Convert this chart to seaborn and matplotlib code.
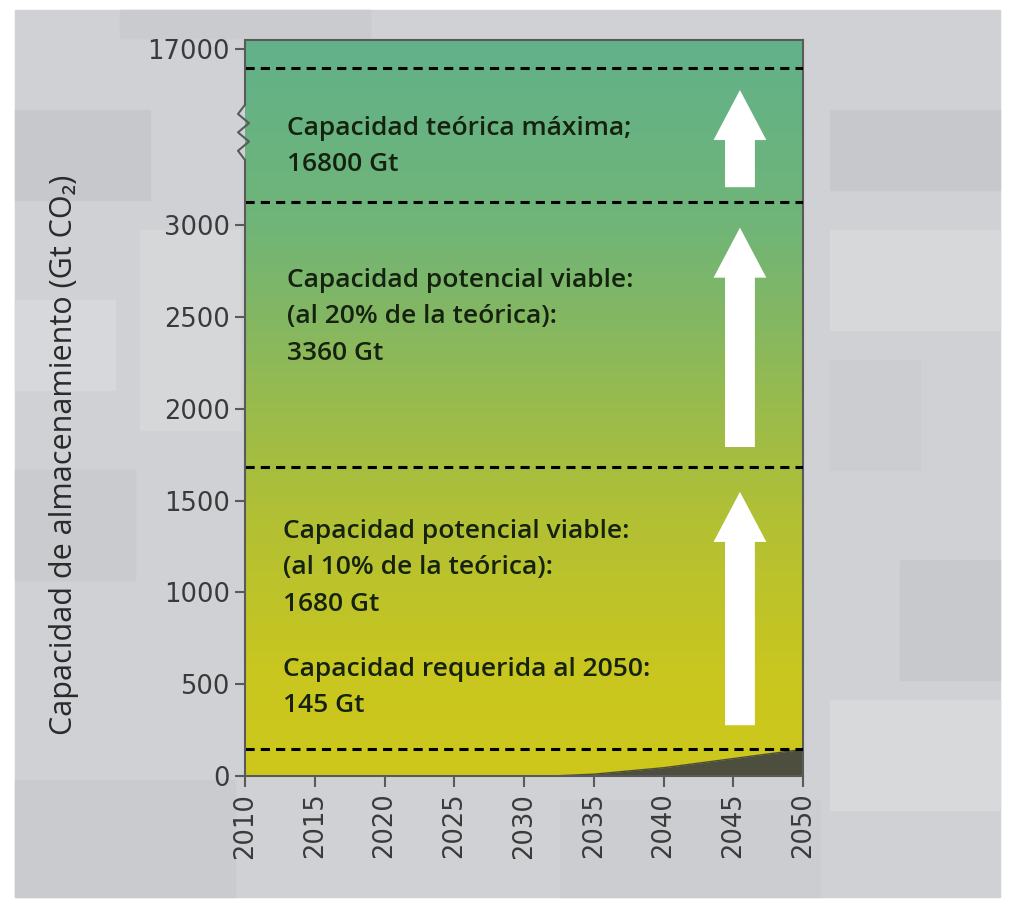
import numpy as np
import matplotlib
matplotlib.use("Agg")
import matplotlib.pyplot as plt
import seaborn as sns
import pandas as pd
from matplotlib.patches import Rectangle, FancyArrowPatch
from matplotlib.colors import LinearSegmentedColormap

# ---- data -------------------------------------------------------------
years = [2032, 2035, 2040, 2045, 2050]
stored = [0, 10, 45, 95, 145]                 # cumulative CO2 stored (Gt)
levels = [145, 1680, 3360, 16800]             # capacity thresholds (Gt)
ytick_values = [0, 500, 1000, 1500, 2000, 2500, 3000, 17000]
xtick_years = list(range(2010, 2051, 5))

# ---- broken y axis: linear up to 3000, compressed above -----------------
break_in = np.array([0.0, 3000.0, 3360.0, 16800.0, 17100.0])
break_out = np.array([0.0, 551.0, 574.0, 708.0, 736.0])


def _pw(v, xs, ys):
    v = np.asarray(v, dtype=float)
    out = np.interp(v, xs, ys)
    s_lo = (ys[1] - ys[0]) / (xs[1] - xs[0])
    s_hi = (ys[-1] - ys[-2]) / (xs[-1] - xs[-2])
    out = np.where(v < xs[0], ys[0] + (v - xs[0]) * s_lo, out)
    out = np.where(v > xs[-1], ys[-1] + (v - xs[-1]) * s_hi, out)
    return out


def fwd(v):
    return _pw(v, break_in, break_out)


def inv(t):
    return _pw(t, break_out, break_in)


sns.set_theme(style="white")
plt.rcParams["font.family"] = ["Open Sans", "DejaVu Sans"]

W, H = 1011, 907
fig = plt.figure(figsize=(W / 100, H / 100), dpi=100)
fig.patch.set_facecolor("white")

# textured grey panel behind the chart
fig.patches.append(Rectangle((15 / W, 10 / H), 985 / W, 887 / H,
                             transform=fig.transFigure, color="#cfd1d4", zorder=-10))
blocks = [
    (15, 110, 135, 90, "#c6c8cb"), (15, 470, 120, 110, "#c9cbce"),
    (830, 110, 170, 80, "#c6c8cb"), (830, 360, 90, 110, "#cbcdd0"),
    (900, 560, 100, 120, "#c7c9cc"), (15, 780, 220, 117, "#c9cbce"),
    (560, 800, 260, 97, "#cccdd0"), (120, 10, 250, 28, "#c9cbce"),
    (830, 700, 170, 110, "#d7d9db"), (15, 300, 100, 90, "#d7d8db"),
    (830, 230, 170, 100, "#d6d8da"), (140, 230, 100, 200, "#d5d7d9"),
]
for bx, by, bw, bh, c in blocks:
    fig.patches.append(Rectangle((bx / W, 1 - (by + bh) / H), bw / W, bh / H,
                                 transform=fig.transFigure, color=c, zorder=-9))

pos = [245 / W, (H - 776) / H, 558 / W, 736 / H]

# colour gradient behind the plot area
bg = fig.add_axes(pos, zorder=0)
grad_cmap = LinearSegmentedColormap.from_list("cap", [
    (0.00, (206 / 255, 200 / 255, 28 / 255)),
    (0.15, (200 / 255, 198 / 255, 32 / 255)),
    (0.35, (178 / 255, 192 / 255, 52 / 255)),
    (0.50, (154 / 255, 187 / 255, 76 / 255)),
    (0.62, (132 / 255, 183 / 255, 98 / 255)),
    (0.75, (112 / 255, 181 / 255, 120 / 255)),
    (1.00, (98 / 255, 177 / 255, 138 / 255)),
])
bg.imshow(np.linspace(0, 1, 256).reshape(-1, 1), cmap=grad_cmap, origin="lower",
          aspect="auto", extent=[0, 1, 0, 1])
bg.set_axis_off()

ax = fig.add_axes(pos, zorder=1)
ax.set_facecolor("none")
ax.set_yscale("function", functions=(fwd, inv))
ax.set_xlim(2010, 2050)
ax.set_ylim(0, 17100)

# CO2 already stored
ax.fill_between(years, 0, stored, color="#4d4e3e", lw=0, zorder=2)
sns.lineplot(x=years, y=stored, ax=ax, color="#4d4e3e", lw=1, zorder=2)

# capacity thresholds
lv = pd.DataFrame({"year": [2010, 2050] * len(levels),
                   "gt": np.repeat(levels, 2),
                   "nivel": np.repeat(range(len(levels)), 2)})
sns.lineplot(data=lv, x="year", y="gt", units="nivel", estimator=None, ax=ax,
             color="black", lw=2.2, dashes=False, zorder=3)
for ln in ax.lines[1:]:
    ln.set_dashes((3, 2))

# annotations
txt_kw = dict(transform=ax.transAxes, color="#15220f", fontsize=19,
              fontweight="semibold", ha="left", va="center")
ax.text(0.075, 0.855, f"Capacidad teórica máxima;\n{levels[3]} Gt",
        linespacing=1.55, **txt_kw)
ax.text(0.075, 0.624, "Capacidad potencial viable:\n(al 20% de la teórica):\n"
        f"{levels[2]} Gt", linespacing=1.6, **txt_kw)
ax.text(0.068, 0.283, "Capacidad potencial viable:\n(al 10% de la teórica):\n"
        f"{levels[1]} Gt", linespacing=1.6, **txt_kw)
ax.text(0.068, 0.120, f"Capacidad requerida al 2050:\n{levels[0]} Gt",
        linespacing=1.6, **txt_kw)

# upward arrows
arrows = [(0.069, 0.386), (0.447, 0.745), (0.800, 0.932)]
for y0, y1 in arrows:
    ax.add_patch(FancyArrowPatch(
        (0.887, y0), (0.887, y1), transform=ax.transAxes,
        arrowstyle="simple,head_length=36,head_width=38,tail_width=21.5",
        mutation_scale=1, color="white", lw=0, shrinkA=0, shrinkB=0, zorder=4))

# axes, ticks, broken-axis mark
for side in ("top", "right", "bottom"):
    ax.spines[side].set_color("#5a5a5a")
    ax.spines[side].set_linewidth(1.5)
ax.spines["left"].set_visible(False)
spine_kw = dict(transform=ax.transAxes, color="#5a5a5a", lw=1.5,
                clip_on=False, zorder=5)
ax.plot([0, 0], [0, 0.837], **spine_kw)
ax.plot([0, 0], [0.912, 1], **spine_kw)
zx = np.array([0, -7, 4, -7, 4, -7, 0]) / 558
zy = np.linspace(0.912, 0.837, 7)
ax.plot(zx, zy, **spine_kw)

ax.set_yticks(ytick_values)
ax.set_yticklabels([str(v) for v in ytick_values])
ax.set_xticks(xtick_years)
ax.set_xticklabels([str(v) for v in xtick_years], rotation=90)
ax.tick_params(axis="both", direction="out", length=7, width=1.5,
               color="#5a5a5a", labelsize=18.5, labelcolor="#3a3a3a", pad=4)
for lab in ax.get_xticklabels() + ax.get_yticklabels():
    lab.set_family("DejaVu Sans")
ax.tick_params(axis="y", left=True, pad=4)
ax.tick_params(axis="x", bottom=True, length=8)
ax.set_xlabel("")
ax.set_ylabel("Capacidad de almacenamiento (Gt CO₂)", fontsize=22,
              color="#2a2a2a")
ax.yaxis.set_label_coords(-0.297, 0.436)
ax.grid(False)

fig.savefig("out.png", dpi=100)
